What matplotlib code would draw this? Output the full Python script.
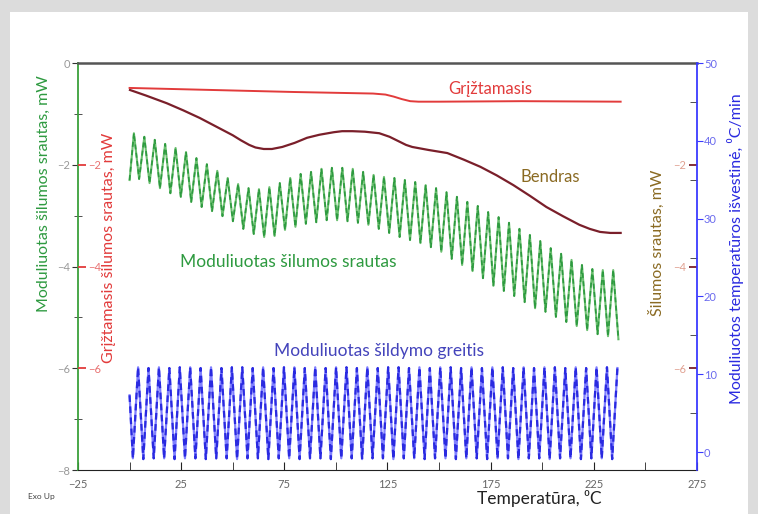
import matplotlib
matplotlib.use('Agg')
import matplotlib.pyplot as plt
import numpy as np
from matplotlib.patches import Rectangle
from matplotlib.ticker import MultipleLocator, FixedLocator

plt.rcParams['font.family'] = ['Lato', 'DejaVu Sans']

# Grįžtamasis (reversing) heat flow, mW
grizt_temp = [0, 40, 80, 118, 124, 128, 132, 136, 140, 150, 190, 238]
grizt_mw = [-0.49, -0.53, -0.57, -0.60, -0.62, -0.66, -0.71, -0.75, -0.76, -0.76, -0.75, -0.76]

# Bendras (total) heat flow, mW
bendras_temp = [0.2, 8, 18, 26, 34, 42, 50, 54, 58, 61, 65, 69, 74, 80, 86, 92, 99,
                103, 108, 114, 121, 126, 131, 134, 137, 145, 154, 162, 170, 178, 186,
                194, 202, 210, 218, 223, 228, 233, 238]
bendras_mw = [-0.53, -0.64, -0.79, -0.93, -1.08, -1.25, -1.42, -1.52, -1.61, -1.66,
              -1.69, -1.69, -1.65, -1.57, -1.47, -1.41, -1.36, -1.34, -1.34, -1.35,
              -1.38, -1.45, -1.55, -1.61, -1.65, -1.71, -1.77, -1.90, -2.04, -2.21,
              -2.40, -2.61, -2.83, -3.01, -3.18, -3.26, -3.32, -3.34, -3.34]

# modulation period, °C
cycle = 5.05

# modulated heat flow: start point, then alternating peak / trough per cycle
green_start = (0.0, -2.30)
green_first_peak = 2.1
green_peaks = [-1.38, -1.45, -1.51, -1.59, -1.67, -1.75, -1.87, -1.99, -2.12, -2.26,
               -2.38, -2.46, -2.48, -2.44, -2.36, -2.26, -2.18, -2.14, -2.08, -2.06,
               -2.06, -2.08, -2.14, -2.20, -2.24, -2.26, -2.30, -2.34, -2.40, -2.46,
               -2.54, -2.63, -2.73, -2.81, -2.93, -3.03, -3.14, -3.26, -3.38, -3.50,
               -3.64, -3.75, -3.87, -3.97, -4.05, -4.07, -4.07]
green_troughs = [-2.28, -2.36, -2.46, -2.56, -2.63, -2.73, -2.83, -2.91, -3.01, -3.11,
                 -3.26, -3.36, -3.42, -3.40, -3.28, -3.22, -3.16, -3.13, -3.09, -3.09,
                 -3.11, -3.14, -3.18, -3.26, -3.34, -3.42, -3.48, -3.54, -3.62, -3.71,
                 -3.85, -3.97, -4.09, -4.23, -4.38, -4.48, -4.58, -4.70, -4.82, -4.89,
                 -4.99, -5.09, -5.17, -5.25, -5.33, -5.37, -5.43]

# modulated heating rate, °C/min: start point, then alternating trough / peak
blue_start = (0.0, 7.3)
blue_first_trough = 1.6
blue_troughs = [-0.8, -0.9, -0.8, -0.8, -0.9, -0.8, -0.8, -0.9, -0.8, -0.8,
                -0.9, -0.8, -0.8, -0.9, -0.8, -0.8, -0.9, -0.8, -0.8, -0.9,
                -0.8, -0.8, -0.9, -0.8, -0.8, -0.9, -0.8, -0.8, -0.9, -0.8,
                -0.8, -0.9, -0.8, -0.8, -0.9, -0.8, -0.8, -0.9, -0.8, -0.8,
                -0.9, -0.8, -0.8, -0.9, -0.8, -0.8, -0.9]
blue_peaks = [10.9, 10.8, 10.9, 10.8, 10.9, 10.9, 10.8, 10.9, 10.8, 10.9,
              10.9, 10.8, 10.9, 10.8, 10.9, 10.9, 10.8, 10.9, 10.8, 10.9,
              10.9, 10.8, 10.9, 10.8, 10.9, 10.9, 10.8, 10.9, 10.8, 10.9,
              10.9, 10.8, 10.9, 10.8, 10.9, 10.9, 10.8, 10.9, 10.8, 10.9,
              10.9, 10.8, 10.9, 10.8, 10.9, 10.9, 10.8]


def zigzag(start, t_first, first_vals, second_vals):
    # extremes sit half a cycle apart, starting from t_first
    n = len(first_vals)
    t = t_first + cycle / 2 * np.arange(2 * n)
    v = np.empty(2 * n)
    v[0::2] = first_vals
    v[1::2] = second_vals
    return np.r_[start[0], t], np.r_[start[1], v]


GREEN = '#2e9a40'
RED = '#e23b3b'
MAROON = '#7a1f2a'
BROWN = '#8a6a22'
BLUE = '#2a2ae0'

fig = plt.figure(figsize=(7.58, 5.14), dpi=100, facecolor='#dcdcdc')
fig.patches.append(Rectangle((10 / 758, 0), 738 / 758, 502 / 514, transform=fig.transFigure,
                             facecolor='white', edgecolor='none', zorder=-10))

ax = fig.add_axes([0.1029, 0.0856, 0.8166, 0.7918])
ax.set_xlim(-25, 275)
ax.set_ylim(-8, 0)
ax.spines['left'].set_color('#3aa03a')
ax.spines['left'].set_linewidth(1.3)
ax.spines['top'].set_color('#555555')
ax.spines['top'].set_linewidth(1.8)
ax.spines['bottom'].set_color('#222222')
ax.spines['right'].set_visible(False)

ax.xaxis.set_major_locator(FixedLocator(np.arange(-25, 276, 50)))
ax.xaxis.set_minor_locator(FixedLocator(np.arange(0, 251, 50)))
ax.tick_params(axis='x', which='both', direction='in', length=6, color='#222222',
               labelsize=8, labelcolor='#666666', pad=6.5)
ax.yaxis.set_major_locator(MultipleLocator(2))
ax.yaxis.set_minor_locator(MultipleLocator(1))
ax.tick_params(axis='y', which='major', direction='out', length=4, color='#333333',
               labelsize=8, labelcolor='#999999', pad=2)
ax.tick_params(axis='y', which='minor', direction='inout', length=6, color='#333333')

# curves in mW
tg, vg = zigzag(green_start, green_first_peak, green_peaks, green_troughs)
ax.plot(tg, vg, color='#6cc070', lw=1.5)
ax.plot(tg, vg, color=GREEN, lw=1.2, dashes=(3, 2))
ax.plot(bendras_temp, bendras_mw, color=MAROON, lw=1.6)
ax.plot(grizt_temp, grizt_mw, color=RED, lw=1.4)

# red axis drawn on the left spine, labels inside
ax_r = ax.twinx()
ax_r.set_ylim(-8, 0)
ax_r.spines['right'].set_position(('axes', 0))
for s in ax_r.spines.values():
    s.set_visible(False)
ax_r.yaxis.set_major_locator(FixedLocator([-2, -4, -6]))
ax_r.tick_params(axis='y', direction='out', length=6, width=1.3, color=RED,
                 labelsize=8, labelcolor='#e87070', pad=1)
ax_r.set_ylabel('Grįžtamasis šilumos srautas, mW', color=RED, fontsize=11.5, va='center')
ax_r.yaxis.set_label_coords(0.05, 0.545)

# brown axis drawn on the right spine, labels inside
ax_b = ax.twinx()
ax_b.set_ylim(-8, 0)
ax_b.yaxis.tick_left()
ax_b.yaxis.set_label_position('left')
ax_b.spines['left'].set_position(('axes', 1))
for s in ax_b.spines.values():
    s.set_visible(False)
ax_b.yaxis.set_major_locator(FixedLocator([-2, -4, -6]))
ax_b.tick_params(axis='y', direction='out', length=6, width=1.3, color=MAROON,
                 labelsize=8, labelcolor='#e0a090', pad=2)
ax_b.set_ylabel('Šilumos srautas, mW', color=BROWN, fontsize=11.5, va='center')
ax_b.yaxis.set_label_coords(0.935, 0.558)

# blue heating rate axis
ax_bl = ax.twinx()
ax_bl.set_ylim(-2.3, 50)
for s in ['top', 'bottom', 'left']:
    ax_bl.spines[s].set_visible(False)
ax_bl.spines['right'].set_color('#3a3aff')
ax_bl.spines['right'].set_linewidth(1.3)
ax_bl.yaxis.set_major_locator(MultipleLocator(10))
ax_bl.yaxis.set_minor_locator(MultipleLocator(5))
ax_bl.tick_params(axis='y', which='major', direction='out', length=4, color='#3a3aff',
                  labelsize=8, labelcolor='#6a6aee', pad=1)
ax_bl.tick_params(axis='y', which='minor', direction='in', length=5, color='#333333')
tb, vb = zigzag(blue_start, blue_first_trough, blue_troughs, blue_peaks)
ax_bl.plot(tb, vb, color='#8080ff', lw=1.6)
ax_bl.plot(tb, vb, color=BLUE, lw=1.6, dashes=(3, 2))
ax_bl.set_ylabel('Moduliuotos temperatūros išvestinė, ⁰C/min', color=BLUE, fontsize=11.5,
                 va='center')
ax_bl.yaxis.set_label_coords(1.063, 0.545)

ax.set_ylabel('Moduliuotas šilumos srautas, mW', color=GREEN, fontsize=11.5, va='center')
ax.yaxis.set_label_coords(-0.055, 0.68)
ax.set_xlabel('Temperatūra, ⁰C', color='#222222', fontsize=12.5, va='center')
ax.xaxis.set_label_coords(0.746, -0.069)

# curve names
ax.text(175, -0.51, 'Grįžtamasis', color=RED, fontsize=12, ha='center', va='center')
ax.text(204, -2.24, 'Bendras', color=BROWN, fontsize=12, ha='center', va='center')
ax.text(77, -3.91, 'Moduliuotas šilumos srautas', color=GREEN, fontsize=12.5,
        ha='center', va='center')
ax.text(121, -5.66, 'Moduliuotas šildymo greitis', color='#4444bb', fontsize=12.5,
        ha='center', va='center')

fig.text(28 / 758, 1 - 497 / 514, 'Exo Up', fontsize=6, color='#444444', va='center')

fig.savefig('out.png', dpi=100, facecolor=fig.get_facecolor())
